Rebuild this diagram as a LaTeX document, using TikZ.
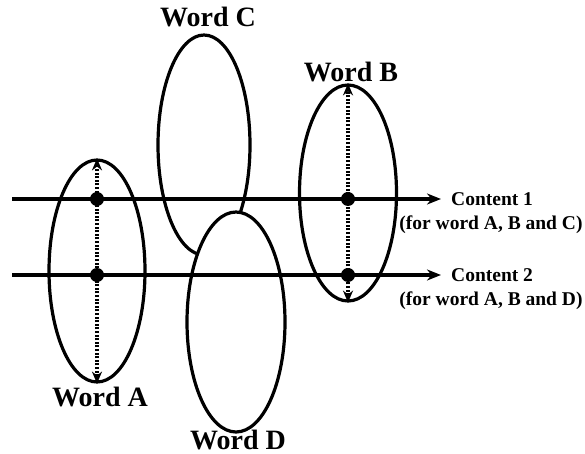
\documentclass[tikz,border=0pt]{standalone}
\usepackage{fontspec}
\setmainfont{Liberation Serif}
\usetikzlibrary{shapes.geometric,arrows.meta}

\tikzset{
  word/.style={ellipse, draw, line width=3.2pt, fill=white, inner sep=0pt, minimum height=220pt},
  wordlabel/.style={font=\fontsize{28}{32}\selectfont\bfseries, inner sep=0pt},
  contlabel/.style={font=\fontsize{19.5}{23}\selectfont\bfseries, inner sep=0pt},
  dot/.style={circle, fill=black, inner sep=0pt, minimum size=14pt},
  content/.style={line width=3.2pt, -{Stealth[length=14pt,width=11pt]}, shorten >=10pt},
  span/.style={line width=3.2pt, dash pattern=on 2pt off 1.6pt, {Stealth[length=12pt,width=10pt]}-{Stealth[length=12pt,width=10pt]}}
}

\begin{document}
\begin{tikzpicture}[x=1pt, y=-1pt]
  \useasboundingbox (0,0) rectangle (585,454);
  \node[word, minimum width=92pt] (wordC) at (204,145) {};
  \node[word, minimum width=98pt] (wordD) at (236,322) {};
  \node[word, minimum width=96pt, minimum height=222pt] (wordA) at (97,271) {};
  \node[word, minimum width=97pt, minimum height=216pt] (wordB) at (348,193) {};

  \node[wordlabel] (labA) at (100,397) {Word A};
  \node[wordlabel] (labB) at (351,72) {Word B};
  \node[wordlabel] (labC) at (208,17) {Word C};
  \node[wordlabel] (labD) at (238,440) {Word D};

  \node[contlabel, anchor=west] (cont1) at (451,199) {Content 1};
  \node[contlabel] (note1) at (491,225) {(for word A, B and C)};
  \node[contlabel, anchor=west] (cont2) at (451,275) {Content 2};
  \node[contlabel] (note2) at (491,301) {(for word A, B and D)};

  \coordinate (start1) at (12,199);
  \coordinate (start2) at (12,275);
  \draw[content] (start1) -- (cont1.west);
  \draw[content] (start2) -- (cont2.west);

  \draw[span] (wordA.south) -- (wordA.north);
  \draw[span] (wordB.south) -- (wordB.north);

  \node[dot] (a1) at (97,199) {};
  \node[dot] (a2) at (97,275) {};
  \node[dot] (b1) at (348,199) {};
  \node[dot] (b2) at (348,275) {};
\end{tikzpicture}
\end{document}
